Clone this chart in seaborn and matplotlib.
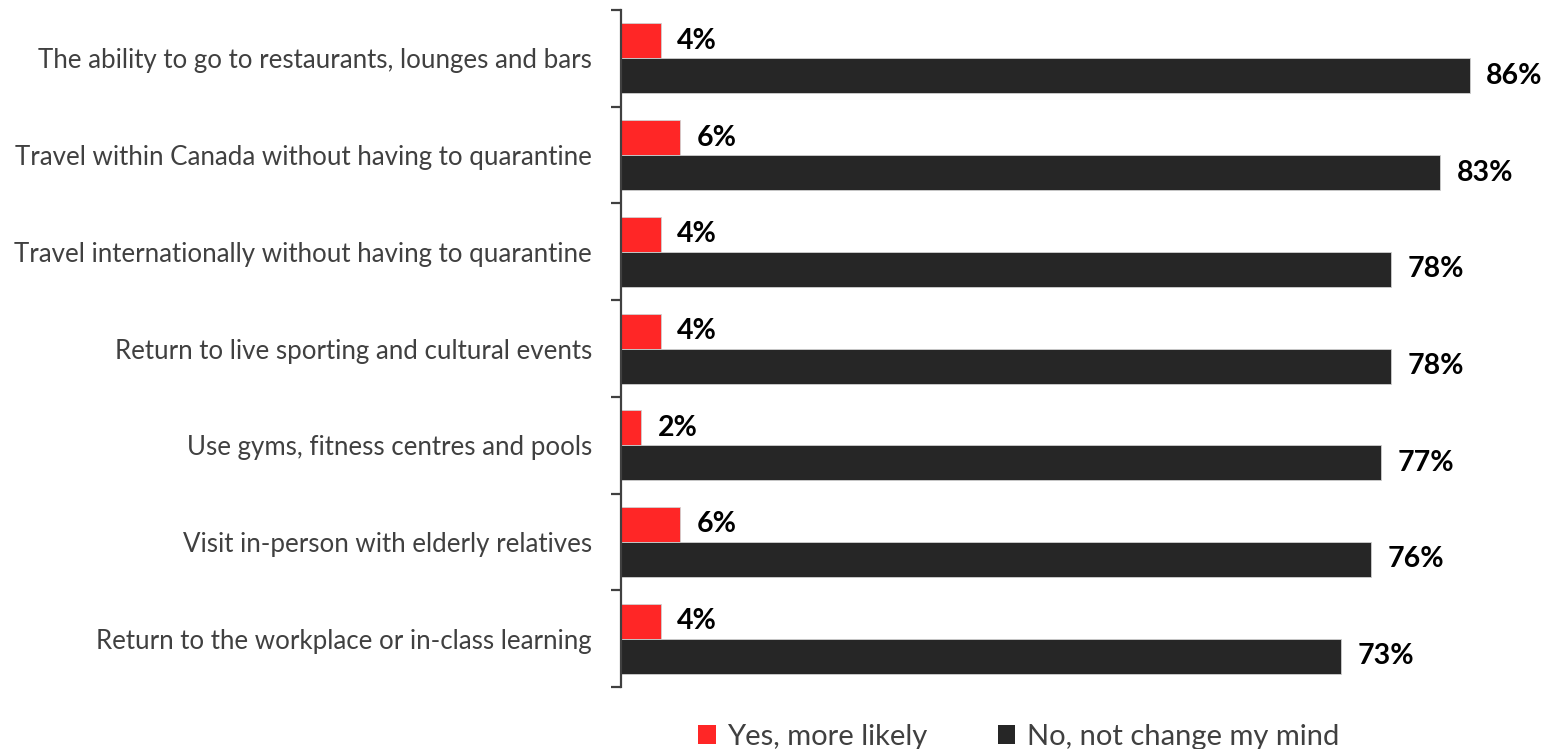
import matplotlib

matplotlib.use("Agg")

import matplotlib.pyplot as plt
import numpy as np
import pandas as pd
import seaborn as sns
from matplotlib.patches import Patch

categories = [
    "The ability to go to restaurants, lounges and bars",
    "Travel within Canada without having to quarantine",
    "Travel internationally without having to quarantine",
    "Return to live sporting and cultural events",
    "Use gyms, fitness centres and pools",
    "Visit in-person with elderly relatives",
    "Return to the workplace or in-class learning",
]
series = ["Yes, more likely", "No, not change my mind"]
yes_values = [4, 6, 4, 4, 2, 6, 4]
no_values = [86, 83, 78, 78, 77, 76, 73]
colors = ["#FF2626", "#262626"]

df = pd.DataFrame({
    "category": categories * 2,
    "answer": [series[0]] * len(categories) + [series[1]] * len(categories),
    "value": yes_values + no_values,
})

sns.set_theme(style="white")
plt.rcParams["font.family"] = ["Lato", "DejaVu Sans"]

fig = plt.figure(figsize=(15.46, 7.49), dpi=100)
ax = fig.add_axes([0.4017, 0.0828, 0.600, 0.9038])

sns.barplot(
    data=df, y="category", x="value", hue="answer", order=categories,
    hue_order=series, palette=colors, saturation=1, orient="h", width=0.724, gap=0,
    edgecolor="#d0d0d0", linewidth=0.6, legend=False, ax=ax,
)

ax.set_xlim(0, 94)
ax.set_ylim(len(categories) - 0.5, -0.5)
ax.set_xlabel("")
ax.set_ylabel("")
ax.set_xticks([])

for s in ["top", "right", "bottom"]:
    ax.spines[s].set_visible(False)
ax.spines["left"].set_color("#404040")
ax.spines["left"].set_linewidth(1.6)

# category labels at band centres, tick marks at band edges
ax.set_yticks(np.arange(len(categories)))
ax.set_yticklabels(categories, fontsize=18.65, color="#404040")
ax.tick_params(axis="y", which="major", length=0, pad=21)
ax.set_yticks(np.arange(len(categories) + 1) - 0.5, minor=True)
ax.tick_params(axis="y", which="minor", length=7, width=1.6, color="#404040", left=True)

for container in ax.containers:
    ax.bar_label(container, labels=[f"{v:.0f}%" for v in container.datavalues],
                 padding=12, fontsize=20.5, fontweight="bold", color="black", clip_on=False)

handles = [Patch(facecolor=c, edgecolor="none") for c in colors]
fig.legend(handles, series, loc="lower center", bbox_to_anchor=(0.659, -0.036), ncol=2,
           frameon=False, fontsize=21, labelcolor="#404040", handlelength=0.6,
           handleheight=0.6, handletextpad=0.4, columnspacing=2.4)

fig.savefig("out.png", dpi=100)
